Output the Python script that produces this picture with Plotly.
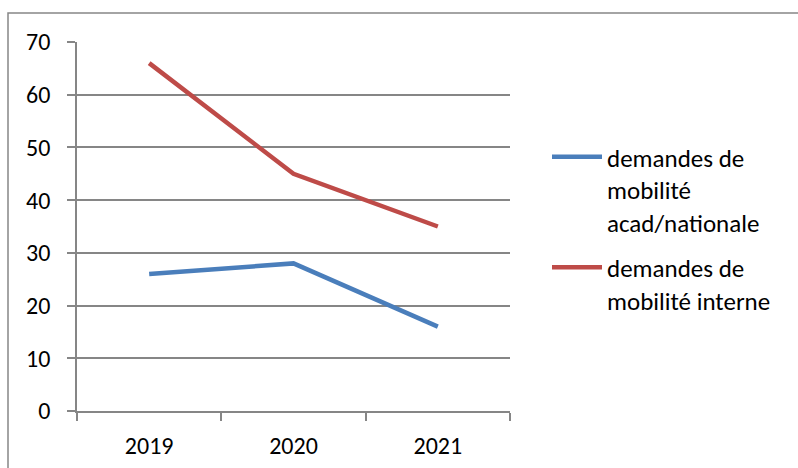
import plotly.graph_objects as go

years = ["2019", "2020", "2021"]
acad_nationale = [26, 28, 16]
interne = [66, 45, 35]
series_names = ["demandes de<br>mobilité<br>acad/nationale", "demandes de<br>mobilité interne"]
y_ticks = [0, 10, 20, 30, 40, 50, 60, 70]

FONT = "Carlito, Lato, 'Open Sans', sans-serif"
GRID = "#868686"

fig = go.Figure()
fig.add_trace(go.Scatter(x=years, y=acad_nationale, mode="lines", name=series_names[0],
                         legendgroup="a", line=dict(color="#4A7EBB", width=4.5)))
fig.add_trace(go.Scatter(x=years, y=interne, mode="lines", name=series_names[1],
                         legendgroup="b", line=dict(color="#BE4B48", width=4.5)))

L, R, T, B = 77, 288, 42, 57
W, H = 798, 468
pw, ph = W - L - R, H - T - B

def px_x(x):
    return (x - L) / pw

def px_y(y):
    return (H - B - y) / ph

fig.update_layout(
    width=W, height=H,
    margin=dict(l=L, r=R, t=T, b=B, autoexpand=False),
    paper_bgcolor="white", plot_bgcolor="white",
    font=dict(family=FONT, size=24, color="#000000"),
    showlegend=True,
    legend=dict(x=px_x(547), xanchor="left", y=px_y(134), yanchor="top",
                valign="top", font=dict(size=25, family=FONT), tracegroupgap=10,
                itemwidth=50, bgcolor="rgba(0,0,0,0)"),
    xaxis=dict(type="category", range=[-0.5, 2.5], showgrid=False, automargin=False,
               showline=True, linecolor=GRID, linewidth=1.5,
               ticks="outside", tickson="boundaries", ticklen=8, tickcolor=GRID, tickwidth=1.5,
               ticklabelstandoff=12, tickfont=dict(size=24, family=FONT)),
    yaxis=dict(range=[0, 70], tickvals=y_ticks, showgrid=True, gridcolor=GRID, gridwidth=1.5,
               showline=True, linecolor=GRID, linewidth=1.5, zeroline=False, automargin=False,
               ticks="outside", ticklen=8, tickcolor=GRID, tickwidth=1.5,
               ticklabelstandoff=12, tickfont=dict(size=24, family=FONT)),
    shapes=[dict(type="rect", xref="paper", yref="paper",
                 x0=px_x(8), x1=px_x(812), y0=px_y(480), y1=px_y(13),
                 line=dict(color=GRID, width=1.5), fillcolor="rgba(0,0,0,0)", layer="below")],
)

fig.write_html("out.html")
